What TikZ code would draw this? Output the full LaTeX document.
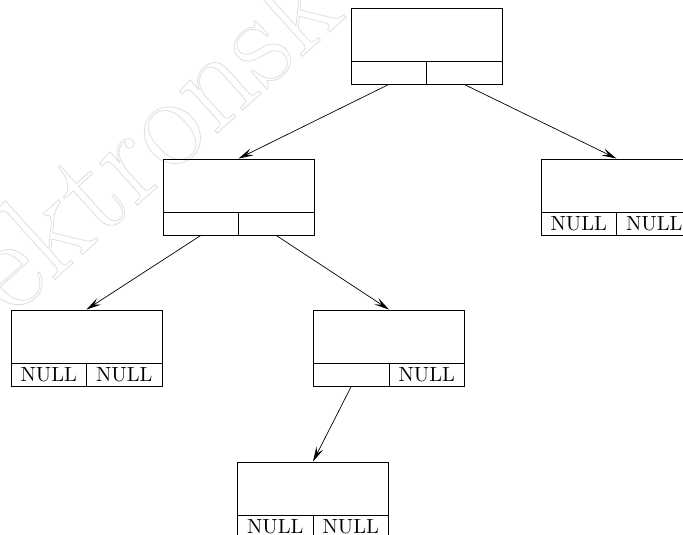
\documentclass[tikz,border=0pt]{standalone}
\usetikzlibrary{arrows.meta}
\newcommand\nulltxt{\scalebox{2.05}{NULL}}
\begin{document}
\begin{tikzpicture}[x=1pt,y=-1pt,
  box/.style={draw, line width=0.9pt, rectangle, minimum width=151pt, minimum height=76pt, inner sep=0pt},
  cell/.style={draw, line width=0.9pt, rectangle, minimum width=75.5pt, minimum height=23pt, inner sep=0pt},
  link/.style={line width=0.7pt, -{Stealth[length=15pt,width=7.5pt,inset=6pt]}},
  wm/.style={text=black!13, inner sep=0pt, font=\fontsize{132}{150}\selectfont}]
\useasboundingbox (0,0) rectangle (683,535);
\clip (0,0) rectangle (683,535);
% watermark
\node[wm, anchor=base west, rotate=42] (wm) at (12,318)
  {\special{pdf:literal direct 1 Tr 0.8 w}ektronsk\special{pdf:literal direct 0 Tr}};
% root
\node[box] (n0) at (426.5,46) {};
\node[cell, anchor=south west] (n0l) at (n0.south west) {};
\node[cell, anchor=south east] (n0r) at (n0.south east) {};
% level 1
\node[box] (n1) at (238.5,197) {};
\node[cell, anchor=south west] (n1l) at (n1.south west) {};
\node[cell, anchor=south east] (n1r) at (n1.south east) {};
\node[box] (n2) at (616.5,197) {};
\node[cell, anchor=south west] (n2l) at (n2.south west) {\nulltxt};
\node[cell, anchor=south east] (n2r) at (n2.south east) {\nulltxt};
% level 2
\node[box] (n3) at (86.5,348) {};
\node[cell, anchor=south west] (n3l) at (n3.south west) {\nulltxt};
\node[cell, anchor=south east] (n3r) at (n3.south east) {\nulltxt};
\node[box] (n4) at (389,348) {};
\node[cell, anchor=south west] (n4l) at (n4.south west) {};
\node[cell, anchor=south east] (n4r) at (n4.south east) {\nulltxt};
% level 3
\node[box] (n5) at (313,500) {};
\node[cell, anchor=south west] (n5l) at (n5.south west) {\nulltxt};
\node[cell, anchor=south east] (n5r) at (n5.south east) {\nulltxt};
% connectors
\draw[link] (n0l.south) -- (n1.north);
\draw[link] (n0r.south) -- (n2.north);
\draw[link] (n1l.south) -- (n3.north);
\draw[link] (n1r.south) -- (n4.north);
\draw[link] (n4l.south) -- (n5.north);
\end{tikzpicture}
\end{document}
